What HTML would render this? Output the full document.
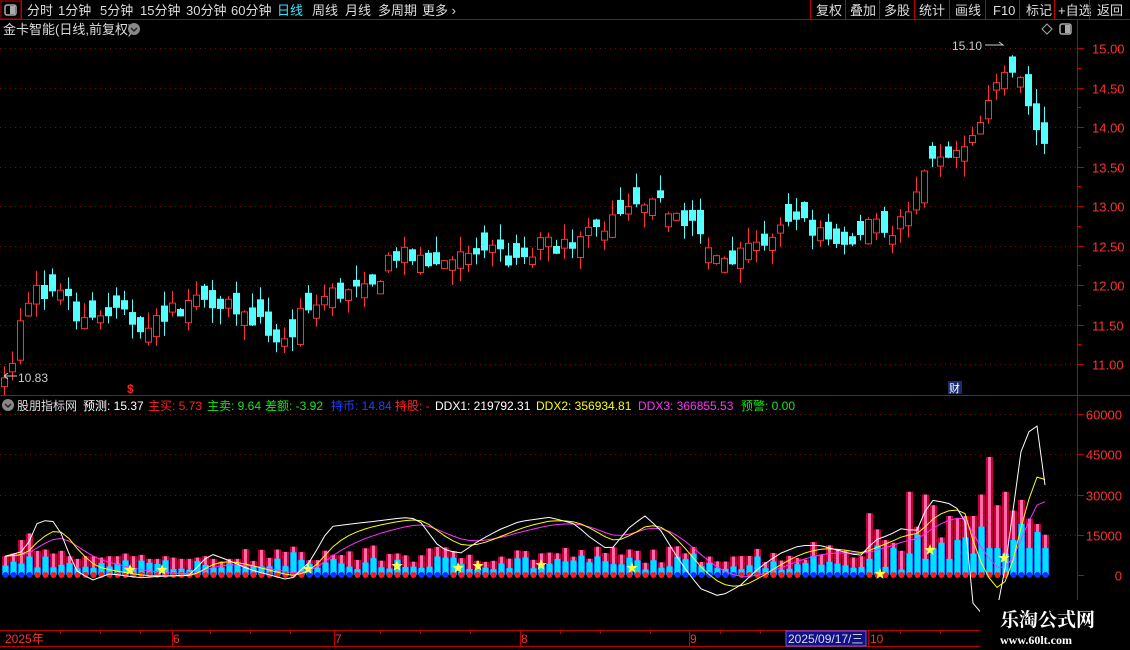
<!DOCTYPE html>
<html><head><meta charset="utf-8">
<style>
html,body{margin:0;padding:0;background:#000;width:1130px;height:650px;overflow:hidden;font-family:"Liberation Sans","Noto Sans CJK SC",sans-serif;}
svg{position:absolute;left:0;top:0}
</style></head><body>
<svg id="s" width="1130" height="650" xmlns="http://www.w3.org/2000/svg" font-family="Liberation Sans, Noto Sans CJK SC, sans-serif">
<rect width="1130" height="650" fill="#000"/>
<rect x="1" y="1" width="20" height="18" fill="none" stroke="#c00000"/>
<rect x="5" y="5" width="11" height="10" rx="2" fill="none" stroke="#aaa" stroke-width="1.5"/><rect x="10" y="6" width="5" height="8" fill="#aaa"/>
<g font-size="13" fill="#ddd">
<text x="27" y="15">分时</text><text x="58" y="15">1分钟</text><text x="100" y="15">5分钟</text><text x="140" y="15">15分钟</text><text x="186" y="15">30分钟</text><text x="231" y="15">60分钟</text>
<text x="277" y="15" fill="#39e6ff">日线</text><text x="312" y="15">周线</text><text x="345" y="15">月线</text><text x="378" y="15">多周期</text><text x="422" y="15">更多 ›</text>
<text x="816" y="15">复权</text><text x="850" y="15">叠加</text><text x="884" y="15">多股</text><text x="919" y="15">统计</text><text x="955" y="15">画线</text><text x="993" y="15">F10</text><text x="1026" y="15">标记</text><text x="1058" y="15">+自选</text><text x="1097" y="15">返回</text>
</g>
<g stroke="#c00000" stroke-width="1">
<line x1="0" y1="19.5" x2="1130" y2="19.5"/>
<line x1="810.5" y1="0" x2="810.5" y2="19"/><line x1="845.5" y1="0" x2="845.5" y2="19"/><line x1="879.5" y1="0" x2="879.5" y2="19"/><line x1="914.5" y1="0" x2="914.5" y2="19"/><line x1="949.5" y1="0" x2="949.5" y2="19"/><line x1="985.5" y1="0" x2="985.5" y2="19"/><line x1="1019.5" y1="0" x2="1019.5" y2="19"/><line x1="1054.5" y1="0" x2="1054.5" y2="19"/><line x1="1089.5" y1="0" x2="1089.5" y2="19"/>
<line x1="21.5" y1="0" x2="21.5" y2="19"/>
<line x1="1077.5" y1="20" x2="1077.5" y2="630"/>
<line x1="0" y1="395.5" x2="1130" y2="395.5"/>
<line x1="0" y1="630.5" x2="980" y2="630.5"/>
<line x1="0" y1="646.5" x2="980" y2="646.5"/>
</g>
<text x="3" y="34" font-size="13" fill="#ddd">金卡智能(日线,前复权)</text>
<circle cx="134" cy="29" r="6" fill="#888"/><path d="M131 28l3 3 3-3" stroke="#222" fill="none" stroke-width="1.5"/>
<path d="M1047 24l5 5-5 5-5-5z" fill="none" stroke="#aaa"/>
<rect x="1060" y="24" width="11" height="10" rx="2" fill="none" stroke="#aaa" stroke-width="1.5"/><rect x="1065" y="25" width="5" height="8" fill="#aaa"/>
<g id="grid"></g>
<g id="main"></g>
<g id="ind"></g>
<g font-size="12">
<circle cx="8" cy="405" r="6" fill="#888"/><path d="M5 404l3 3 3-3" stroke="#222" fill="none" stroke-width="1.5"/>
<text x="17" y="410" fill="#ddd">股朋指标网</text>
<text x="83" y="410" fill="#fff">预测: 15.37</text>
<text x="148" y="410" fill="#ff2020">主买: 5.73</text>
<text x="207" y="410" fill="#20e020">主卖: 9.64</text>
<text x="265" y="410" fill="#20e020">差额: -3.92</text>
<text x="331" y="410" fill="#2040ff">持币: 14.84</text>
<text x="395" y="410" fill="#ff2020">持股: -</text>
<text x="435" y="410" fill="#fff">DDX1: 219792.31</text>
<text x="536" y="410" fill="#ffff00">DDX2: 356934.81</text>
<text x="638" y="410" fill="#ff30ff">DDX3: 366855.53</text>
<text x="741" y="410" fill="#20e020">预警: 0.00</text>
</g>
<g font-size="12" fill="#ff3030">
<text x="5" y="643">2025年</text><text x="173" y="643">6</text><text x="335" y="643">7</text><text x="521" y="643">8</text><text x="690" y="643">9</text><text x="870" y="643">10</text>
</g>
<rect x="786" y="631" width="80" height="15" fill="#10108a" stroke="#6060ff"/>
<text x="788" y="643" font-size="12" fill="#ddd">2025/09/17/三</text>
<text x="127" y="393" font-size="12" fill="#ff2020" font-weight="bold">$</text>
<rect x="948" y="381" width="14" height="13" fill="#1a2a70"/><text x="949" y="392" font-size="11" fill="#fff">财</text>
<text x="18" y="382" font-size="12" fill="#ccc">10.83</text><path d="M4 376h13M4 376l4-3M4 376l4 3" stroke="#ccc" fill="none"/>
<text x="952" y="50" font-size="12" fill="#ccc">15.10</text><path d="M985 45h18l-4-3" stroke="#ccc" fill="none"/>
<rect x="980" y="600" width="150" height="50" fill="#000"/>
<text x="1000" y="626" font-size="19" font-weight="bold" fill="#fff" font-family="Noto Serif CJK SC, serif">乐淘公式网</text>
<text x="1000" y="644" font-size="12" font-weight="bold" fill="#fff" font-family="Liberation Serif, serif">www.60lt.com</text>
</svg>
<script>
var NS="http://www.w3.org/2000/svg";
function el(p,t,a){var e=document.createElementNS(NS,t);for(var k in a)e.setAttribute(k,a[k]);p.appendChild(e);return e;}
var grid=document.getElementById('grid'),main=document.getElementById('main'),ind=document.getElementById('ind');
function py(p){return 48+(15-p)*79;}
for(var v=11;v<=15.01;v+=0.5){var y=Math.round(py(v))+0.5;
 el(grid,'line',{x1:0,y1:y,x2:1077,y2:y,stroke:'#7a0c0c','stroke-dasharray':'1,4'});
 el(grid,'line',{x1:1077,y1:y,x2:1084,y2:y,stroke:'#c00000'});
 var t=el(grid,'text',{x:1092,y:y+5,'font-size':13,fill:'#ff3030'});t.textContent=v.toFixed(2);}
for(var v=11.25;v<15.2;v+=0.5){var y=Math.round(py(v))+0.5;el(grid,'line',{x1:1077,y1:y,x2:1081,y2:y,stroke:'#c00000'});}
function iy(v){return 575-v*161/60000;}
[0,15000,30000,45000,60000].forEach(function(v){var y=Math.round(iy(v))+0.5;
 if(v>0)el(grid,'line',{x1:0,y1:y,x2:1077,y2:y,stroke:'#7a0c0c','stroke-dasharray':'1,4'});
 el(grid,'line',{x1:1077,y1:y,x2:1084,y2:y,stroke:'#c00000'});
 var t=el(grid,'text',{x:1122,y:y+5,'font-size':13,fill:'#ff3030','text-anchor':'end'});t.textContent=v;});
[60,100,140,210,250,290,380,420,470,560,600,650,720,760,900,940].forEach(function(x){el(grid,'line',{x1:x+.5,y1:631,x2:x+.5,y2:634,stroke:'#c00000'});});
[172,334,520,689,868].forEach(function(x){el(grid,'line',{x1:x+.5,y1:631,x2:x+.5,y2:646,stroke:'#c00000'});});
var seed=7;function rnd(){seed=(seed*16807)%2147483647;return seed/2147483647;}
function interp(pts,x){for(var i=1;i<pts.length;i++){if(x<=pts[i][0]){var a=pts[i-1],b=pts[i];return a[1]+(b[1]-a[1])*(x-a[0])/(b[0]-a[0]);}}return pts[pts.length-1][1];}
var P=[[4,10.95],[12,11.05],[20,11.5],[28,11.8],[36,11.95],[60,11.85],[80,11.6],[110,11.65],[140,11.5],[160,11.6],[200,11.85],[230,11.8],[260,11.5],[285,11.25],[300,11.6],[330,11.9],[370,11.9],[390,12.4],[420,12.3],[460,12.35],[500,12.4],[520,12.2],[540,12.5],[580,12.55],[610,12.8],[640,12.95],[665,13.0],[690,12.8],[710,12.35],[740,12.4],[770,12.6],[800,12.8],[830,12.55],[850,12.45],[870,12.9],[890,12.7],[910,12.9],[930,13.5],[950,13.6],[970,13.75],[990,14.3],[1005,14.8],[1015,14.8],[1025,14.4],[1035,14.0],[1046,13.75]];
var prev=10.9;
for(var i=0;i<131;i++){var x=4+i*8;var c=interp(P,x)+(rnd()-0.5)*0.25;var o=prev+(rnd()-0.5)*0.3;
 if(i==0){o=10.85;}
 if(Math.abs(o-c)<0.08){o=c+(rnd()<0.5?-1:1)*(0.08+rnd()*0.15);}
 var up=c>=o;var hi=Math.max(o,c)+rnd()*0.2,lo=Math.min(o,c)-rnd()*0.2;
 var col=up?'#ff3232':'#54ffff';
 el(main,'line',{x1:x+.5,y1:py(hi),x2:x+.5,y2:py(lo),stroke:col});
 var yt=py(Math.max(o,c)),h=Math.max(1,py(Math.min(o,c))-yt);
 if(up)el(main,'rect',{x:x-2.5,y:yt,width:6,height:h,fill:'#000',stroke:col});
 else el(main,'rect',{x:x-3,y:yt,width:7,height:h,fill:col});
 prev=c;}
var R=[7000,8000,13000,15500,9000,9500,8000,9000,7000,6000,7000,7000,6500,7000,7000,8000,7000,7500,6000,6000,7000,6500,6000,6000,6500,7000,6000,5000,6000,6000];
var rightT=[7000,23000,17000,13000,12000,9000,31000,18000,30000,26000,14000,22000,21000,22000,22000,30000,44000,26000,31000,24000,28000,21000,19000,15000];
var rightC=[3000,6000,11000,3000,10000,2000,8000,15000,6000,10000,12000,6000,13000,14000,8000,18000,10000,10000,8000,13000,19000,10000,16000,10000];
var W=[[5,7000],[25,9000],[38,20000],[52,20500],[62,15000],[75,2000],[92,-2000],[110,500],[140,-1000],[160,-500],[190,0],[210,8000],[225,6000],[250,2000],[270,0],[290,-2000],[310,5000],[330,18000],[350,19000],[375,20000],[395,21000],[410,21500],[420,20000],[440,10000],[460,8000],[480,13000],[500,17000],[520,20000],[550,21500],[575,19000],[590,14000],[610,9000],[630,18000],[645,22000],[660,17000],[680,5000],[700,-5000],[720,-8000],[740,-4000],[760,3000],[780,8000],[800,11000],[820,11000],[840,9000],[860,7000],[875,13000],[890,15000],[905,18000],[915,15000],[930,28000],[945,27000],[955,26000],[965,20000],[972,-10000],[980,-14000],[995,-15000],[1000,-10000],[1010,15000],[1020,45000],[1035,59000],[1043,45000],[1047,22000]];
var wp=[],yp=[],mp=[],ye=7000,me=7000;
for(var i=0;i<131;i++){var x=5+i*8;var tot,cy;
 var k=i-(131-rightT.length);
 if(k>=0){tot=rightT[k];cy=rightC[k];}
 else{tot=(i<R.length?R[i]:4500+rnd()*6500);if(i>100)tot+=2000;cy=tot*(0.3+rnd()*0.5);}
 var yt=iy(tot);
 el(ind,'rect',{x:x-3,y:yt,width:7,height:575-yt,fill:'#c0003a'});
 el(ind,'rect',{x:x-1,y:yt,width:3,height:575-yt,fill:'#ff6aa8'});
 var yc=iy(cy);
 el(ind,'rect',{x:x-3,y:yc,width:7,height:575-yc,fill:'#0090ff'});
 el(ind,'rect',{x:x-2,y:yc,width:5,height:575-yc,fill:'#00e0ff'});
 var w=interp(W,x);ye=ye+(w-ye)*0.3;me=me+(w-me)*0.17;
 wp.push(x+','+iy(w).toFixed(1));yp.push(x+','+iy(ye).toFixed(1));mp.push(x+','+iy(me).toFixed(1));
}
for(var i=0;i<131;i++){var x=5+i*8;var blue=(i<4)||(i>=38&&i<44)||(i>=52&&i<56)||(i>=84&&i<92)||(i>=100&&i<108)||(i>=126);
 el(ind,'circle',{cx:x+.5,cy:575,r:3,fill:blue?'#1030ff':'#ff1a1a'});}
el(ind,'polyline',{points:mp.join(' '),fill:'none',stroke:'#ff30ff','stroke-width':1});
el(ind,'polyline',{points:yp.join(' '),fill:'none',stroke:'#ffff00','stroke-width':1});
el(ind,'polyline',{points:wp.join(' '),fill:'none',stroke:'#fff','stroke-width':1});
function star(cx,cy){var p=[];for(var j=0;j<10;j++){var r=j%2?2.5:6,a=-Math.PI/2+j*Math.PI/5;p.push((cx+r*Math.cos(a)).toFixed(1)+','+(cy+r*Math.sin(a)).toFixed(1));}el(ind,'polygon',{points:p.join(' '),fill:'#ffff40'});}
[[130,570],[162,570],[308,569],[397,566],[541,565],[632,568],[880,574],[930,550],[1004,558],[458,568],[478,566]].forEach(function(s){star(s[0],s[1]);});
</script>
</body></html>
